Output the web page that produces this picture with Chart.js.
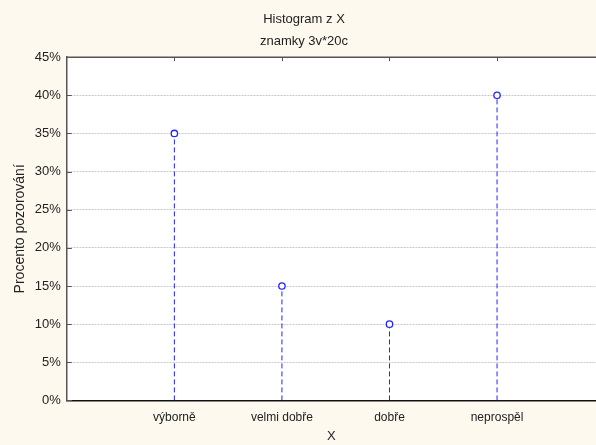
<!DOCTYPE html>
<html>
<head>
<meta charset="utf-8">
<script src="https://cdn.jsdelivr.net/npm/chart.js@4"></script>
<style>
  html, body { margin: 0; padding: 0; background: #fdf9ef; }
  #wrap { width: 596px; height: 445px; }
</style>
</head>
<body>
<div id="wrap"><canvas id="chart"></canvas></div>
<script>
// grades and the share of observations in each
const categories = ['výborně', 'velmi dobře', 'dobře', 'neprospěl'];
const percentages = [35, 15, 10, 40];
const yTickValues = [0, 5, 10, 15, 20, 25, 30, 35, 40, 45];

const blue = '#2323ff';

// one dashed stem per category, from 0 up to the value
const stemSets = categories.map((c, i) => ({
    type: 'line',
    data: [{x: i + 1, y: 0}, {x: i + 1, y: percentages[i]}],
    borderColor: blue,
    borderWidth: 1,
    borderDash: [5, 3],
    pointRadius: 0,
    order: 2
}));

const pointSet = {
    type: 'scatter',
    data: categories.map((c, i) => ({x: i + 1, y: percentages[i]})),
    pointStyle: 'circle',
    pointRadius: 3.2,
    pointBackgroundColor: '#ffffff',
    pointBorderColor: blue,
    pointBorderWidth: 1.3,
    order: 1
};

// top frame line and inward tick marks (top and left)
const frameTicks = {
    id: 'frameTicks',
    afterDraw(chart) {
        const ctx = chart.ctx;
        const area = chart.chartArea;
        const xs = chart.scales.x;
        const ys = chart.scales.y;
        ctx.save();
        ctx.strokeStyle = '#555555';
        ctx.lineWidth = 1.5;
        ctx.beginPath();
        ctx.moveTo(area.left, area.top);
        ctx.lineTo(chart.width, area.top);
        ctx.stroke();
        ctx.lineWidth = 1;
        categories.forEach((c, i) => {
            const px = Math.round(xs.getPixelForValue(i + 1)) + 0.5;
            ctx.beginPath();
            ctx.moveTo(px, area.top);
            ctx.lineTo(px, area.top + 4);
            ctx.stroke();
        });
        yTickValues.forEach(v => {
            const py = Math.round(ys.getPixelForValue(v)) + 0.5;
            ctx.beginPath();
            ctx.moveTo(area.left, py);
            ctx.lineTo(area.left + 5, py);
            ctx.stroke();
        });
        ctx.restore();
    }
};

const plotBackground = {
    id: 'plotBackground',
    beforeDraw(chart) {
        const ctx = chart.ctx;
        const a = chart.chartArea;
        ctx.save();
        ctx.fillStyle = '#ffffff';
        ctx.fillRect(a.left, a.top, chart.width - a.left, a.bottom - a.top);
        ctx.restore();
    }
};

Chart.defaults.font.family = 'Arial, "Liberation Sans", sans-serif';
Chart.defaults.font.size = 13;
Chart.defaults.color = '#222222';

new Chart(document.getElementById('chart'), {
    data: {datasets: [...stemSets, pointSet]},
    options: {
        responsive: true,
        maintainAspectRatio: false,
        animation: false,
        layout: {autoPadding: false, padding: {left: 12, right: 0, top: 6, bottom: 1}},
        plugins: {
            legend: {display: false},
            tooltip: {enabled: false},
            title: {
                display: true,
                text: 'Histogram z X',
                font: {size: 13, weight: 'normal'},
                color: '#222222',
                padding: {top: 6, bottom: 4}
            },
            subtitle: {
                display: true,
                text: 'znamky 3v*20c',
                font: {size: 13},
                color: '#222222',
                padding: {top: 2, bottom: 8}
            }
        },
        scales: {
            x: {
                type: 'linear',
                min: 0,
                max: 4.92,
                afterBuildTicks(scale) {
                    scale.ticks = categories.map((c, i) => ({value: i + 1}));
                },
                ticks: {
                    callback: (v) => categories[v - 1] || '',
                    padding: 11,
                    maxRotation: 0,
                    autoSkip: false,
                    font: {size: 12, lineHeight: 1},
                    color: '#222222'
                },
                grid: {drawOnChartArea: false, drawTicks: false},
                border: {color: '#111111', width: 1.5},
                title: {
                    display: true,
                    text: 'X',
                    color: '#222222',
                    padding: {top: -6, bottom: 0}
                }
            },
            y: {
                min: 0,
                max: 45,
                afterBuildTicks(scale) {
                    scale.ticks = yTickValues.map(v => ({value: v}));
                },
                ticks: {
                    callback: (v) => v + '%',
                    padding: 6,
                    color: '#222222'
                },
                grid: {
                    color: '#c8c8c8',
                    drawTicks: false,
                    lineWidth: 1
                },
                border: {color: '#555555', width: 1.5, dash: [2, 1]},
                title: {
                    display: true,
                    text: 'Procento pozorování',
                    font: {size: 14},
                    color: '#222222',
                    padding: {top: 0, bottom: 0}
                }
            }
        }
    },
    plugins: [plotBackground, frameTicks]
});
</script>
</body>
</html>
